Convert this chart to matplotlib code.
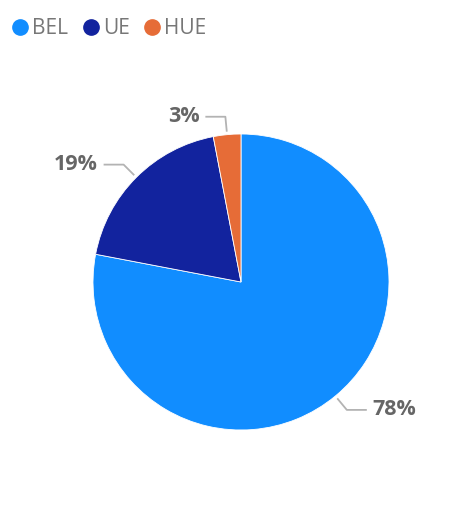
import matplotlib.pyplot as plt
from matplotlib.lines import Line2D
import numpy as np

categories = ['BEL', 'UE', 'HUE']
shares = [78, 19, 3]
colors = ['#118DFF', '#12239E', '#E66C37']

W, H = 471, 520
fig = plt.figure(figsize=(W / 100, H / 100), dpi=100)
ax = fig.add_axes([0, 0, 1, 1])

cx, cy, r = 241, H - 282, 148
wedges, _ = ax.pie(shares, colors=colors, startangle=90, counterclock=False,
                   center=(cx, cy), radius=r, frame=True,
                   wedgeprops=dict(linewidth=0.6, edgecolor='white'))
ax.set_xlim(0, W)
ax.set_ylim(0, H)
ax.set_aspect('equal')
ax.axis('off')

# labels outside with elbow leader lines
for w, v in zip(wedges, shares):
    ang = np.deg2rad((w.theta1 + w.theta2) / 2)
    c, s = np.cos(ang), np.sin(ang)
    p0 = (cx + (r + 3) * c, cy + (r + 3) * s)
    p1 = (cx + (r + 18) * c, cy + (r + 18) * s)
    side = 1 if c >= 0 else -1
    p2 = (p1[0] + side * 20, p1[1])
    ax.plot([p0[0], p1[0], p2[0]], [p0[1], p1[1], p2[1]],
            color='#b3b3b3', lw=1.3, solid_capstyle='butt')
    ax.text(p2[0] + side * 6, p2[1], f'{v}%', ha='left' if side > 0 else 'right',
            va='center', fontsize=15.5, fontweight='bold', color='#666666',
            family='Open Sans')

handles = [Line2D([], [], marker='o', ls='', markersize=11, color=c) for c in colors]
fig.legend(handles, categories, loc='upper left', bbox_to_anchor=(-0.024, 1.003),
           ncol=3, frameon=False, handletextpad=0.0, columnspacing=0.5,
           handlelength=1.15, borderaxespad=0.55,
           prop=dict(family='Open Sans', size=15), labelcolor='#777777')

fig.savefig('out.png', dpi=100)
